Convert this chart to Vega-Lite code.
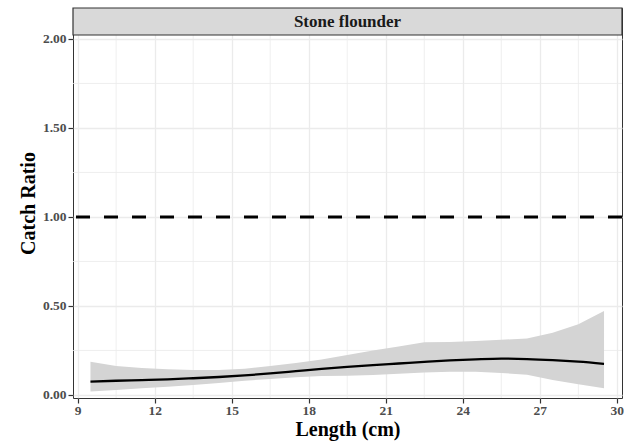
{
  "$schema": "https://vega.github.io/schema/vega-lite/v6.json",
  "autosize": {"type": "none"},
  "width": 549,
  "height": 390,
  "padding": {"left": 73, "top": 8, "right": 2, "bottom": 45},
  "background": "white",
  "config": {
    "font": "Liberation Serif, Times New Roman, serif",
    "view": {"stroke": "#333333", "strokeWidth": 1}
  },
  "datasets": {
    "curve": [
      {"length": 9.5, "fit": 0.075, "lower": 0.019, "upper": 0.187},
      {"length": 10.5, "fit": 0.080, "lower": 0.028, "upper": 0.163},
      {"length": 11.5, "fit": 0.084, "lower": 0.038, "upper": 0.152},
      {"length": 12.5, "fit": 0.088, "lower": 0.047, "upper": 0.145},
      {"length": 13.5, "fit": 0.094, "lower": 0.056, "upper": 0.140},
      {"length": 14.5, "fit": 0.101, "lower": 0.068, "upper": 0.141},
      {"length": 15.5, "fit": 0.110, "lower": 0.080, "upper": 0.148},
      {"length": 16.5, "fit": 0.121, "lower": 0.090, "upper": 0.163},
      {"length": 17.5, "fit": 0.134, "lower": 0.100, "upper": 0.180},
      {"length": 18.5, "fit": 0.147, "lower": 0.106, "upper": 0.200},
      {"length": 19.5, "fit": 0.158, "lower": 0.108, "upper": 0.225},
      {"length": 20.5, "fit": 0.168, "lower": 0.113, "upper": 0.250},
      {"length": 21.5, "fit": 0.177, "lower": 0.119, "upper": 0.273},
      {"length": 22.5, "fit": 0.186, "lower": 0.127, "upper": 0.296},
      {"length": 23.5, "fit": 0.194, "lower": 0.130, "upper": 0.298},
      {"length": 24.5, "fit": 0.200, "lower": 0.130, "upper": 0.303},
      {"length": 25.5, "fit": 0.204, "lower": 0.124, "upper": 0.310},
      {"length": 26.5, "fit": 0.202, "lower": 0.114, "upper": 0.318},
      {"length": 27.5, "fit": 0.196, "lower": 0.084, "upper": 0.350},
      {"length": 28.5, "fit": 0.187, "lower": 0.060, "upper": 0.397},
      {"length": 29.5, "fit": 0.175, "lower": 0.038, "upper": 0.472}
    ],
    "minorx": [{"v": 10.5}, {"v": 13.5}, {"v": 16.5}, {"v": 19.5}, {"v": 22.5}, {"v": 25.5}, {"v": 28.5}],
    "minory": [{"v": 0.25}, {"v": 0.75}, {"v": 1.25}, {"v": 1.75}],
    "ref": [{"ratio": 1}],
    "strip": [{"species": "Stone flounder"}]
  },
  "layer": [
    {
      "data": {"name": "minorx"},
      "mark": {"type": "rule", "color": "#ebebeb", "strokeWidth": 0.8},
      "encoding": {
        "x": {"field": "v", "type": "quantitative", "scale": {"domain": [8.82, 30.2], "nice": false, "zero": false}}
      }
    },
    {
      "data": {"name": "minory"},
      "mark": {"type": "rule", "color": "#ebebeb", "strokeWidth": 0.8},
      "encoding": {
        "y": {"field": "v", "type": "quantitative"}
      }
    },
    {
      "data": {"name": "curve"},
      "mark": {"type": "area", "color": "#d4d4d4", "opacity": 1},
      "encoding": {
        "x": {
          "field": "length", "type": "quantitative",
          "scale": {"domain": [8.82, 30.2], "nice": false, "zero": false},
          "axis": {
            "title": "Length (cm)",
            "values": [9, 12, 15, 18, 21, 24, 27, 30],
            "grid": true, "gridColor": "#ebebeb", "gridWidth": 1.3,
            "domain": false,
            "tickColor": "#333333", "tickSize": 5, "tickWidth": 1.2,
            "labelFont": "Liberation Serif, Times New Roman, serif", "labelFontWeight": "bold", "labelFontSize": 13.5, "labelColor": "#4d4d4d", "labelPadding": 0,
            "titleFont": "Liberation Serif, Times New Roman, serif", "titleFontWeight": "bold", "titleFontSize": 20, "titleColor": "#000000", "titlePadding": 3
          }
        },
        "y": {
          "field": "lower", "type": "quantitative",
          "scale": {"domain": [-0.0169, 2.174], "nice": false, "zero": false},
          "axis": {
            "title": "Catch Ratio",
            "values": [0, 0.5, 1, 1.5, 2],
            "format": ".2f",
            "grid": true, "gridColor": "#ebebeb", "gridWidth": 1.3,
            "domain": false,
            "tickColor": "#333333", "tickSize": 5, "tickWidth": 1.2,
            "labelFont": "Liberation Serif, Times New Roman, serif", "labelFontWeight": "bold", "labelFontSize": 13.5, "labelColor": "#4d4d4d", "labelPadding": 2,
            "titleFont": "Liberation Serif, Times New Roman, serif", "titleFontWeight": "bold", "titleFontSize": 20, "titleColor": "#000000", "titlePadding": 4
          }
        },
        "y2": {"field": "upper"}
      }
    },
    {
      "data": {"name": "curve"},
      "mark": {"type": "line", "color": "#000000", "strokeWidth": 2.3, "interpolate": "monotone"},
      "encoding": {
        "x": {"field": "length", "type": "quantitative"},
        "y": {"field": "fit", "type": "quantitative"}
      }
    },
    {
      "data": {"name": "ref"},
      "mark": {"type": "rule", "color": "#000000", "strokeWidth": 3, "strokeDash": [14, 14]},
      "encoding": {
        "y": {"field": "ratio", "type": "quantitative"}
      }
    },
    {
      "data": {"name": "strip"},
      "mark": {"type": "rect", "fill": "#d9d9d9", "stroke": "#333333", "strokeWidth": 1.2},
      "encoding": {
        "x": {"datum": 8.82, "type": "quantitative"},
        "x2": {"datum": 30.2},
        "y": {"datum": 2.0224, "type": "quantitative"},
        "y2": {"datum": 2.174}
      }
    },
    {
      "data": {"name": "strip"},
      "mark": {"type": "text", "font": "Liberation Serif, Times New Roman, serif", "fontWeight": "bold", "fontSize": 17, "color": "#1a1a1a", "baseline": "middle", "align": "center"},
      "encoding": {
        "x": {"datum": 19.51, "type": "quantitative"},
        "y": {"datum": 2.098, "type": "quantitative"},
        "text": {"field": "species"}
      }
    }
  ]
}
